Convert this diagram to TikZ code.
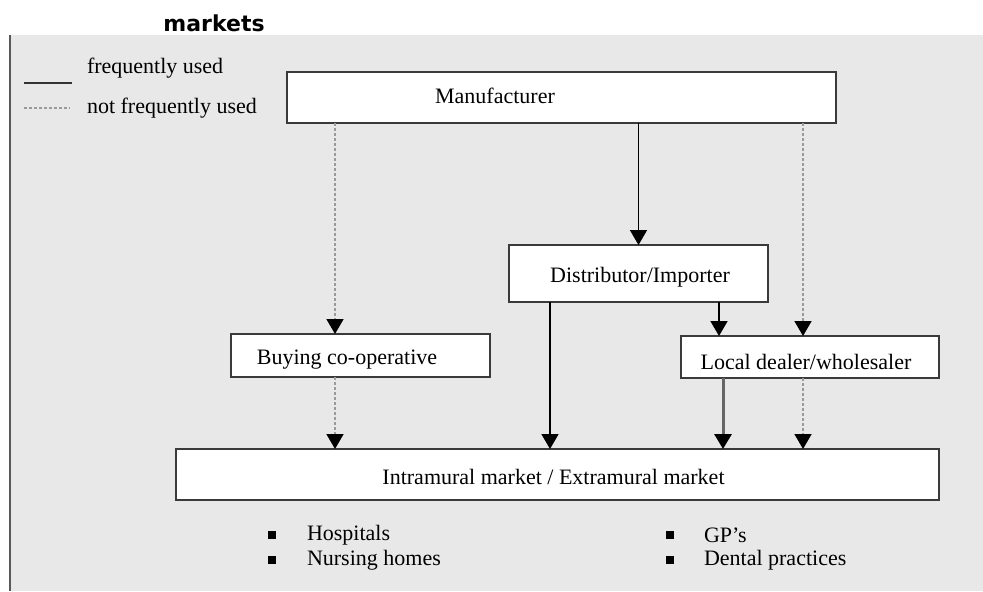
\documentclass[tikz,border=0pt]{standalone}
\usepackage{fontspec}
\setmainfont{Liberation Serif}
\newfontfamily\headfont{DejaVu Sans}
\usetikzlibrary{arrows.meta}
\definecolor{bggray}{HTML}{E8E8E8}
\definecolor{boxline}{HTML}{3A3A3A}
\definecolor{rarecol}{HTML}{9A9A9A}
\begin{document}
\begin{tikzpicture}[x=0.5pt,y=-0.5pt,
  every node/.style={inner sep=0pt, outer sep=0pt},
  txt/.style={font=\fontsize{11}{13}\selectfont},
  box/.style={draw=boxline, line width=1pt, fill=white},
  tip/.style={-{Triangle[width=8.5pt,length=7.5pt,color=black]}},
  freq/.style={tip, draw=black, line width=0.8pt},
  freqgray/.style={tip, draw=black!60, line width=1.5pt},
  rare/.style={tip, draw=rarecol, line width=0.8pt, dash pattern=on 1.5pt off 1pt},
  bullet/.style={fill=black, minimum size=4pt}
]
\useasboundingbox (0,0) rectangle (983,591);
\fill[white] (0,0) rectangle (983,591);
\fill[bggray] (10,35) rectangle (983,591);
\draw[black!65, line width=1.2pt] (10,35) -- (10,591);

\node[font=\headfont\bfseries\fontsize{11}{13}\selectfont] (title) at (214,23) {markets};

% legend
\coordinate (l1a) at (24,83); \coordinate (l1b) at (72,83);
\coordinate (l2a) at (24,108); \coordinate (l2b) at (70,108);
\draw[black!80, line width=1pt] (l1a) -- (l1b);
\draw[rarecol, line width=0.75pt, dash pattern=on 1.5pt off 1pt] (l2a) -- (l2b);
\node[txt, anchor=west] (lt1) at (87,68) {frequently used};
\node[txt, anchor=west] (lt2) at (87,108) {not frequently used};

% boxes
\node[box, minimum width=274.5pt, minimum height=25.5pt] (manu) at (561.5,97.5) {};
\node[box, minimum width=129.5pt, minimum height=28.5pt] (dist) at (638.5,273.5) {};
\node[box, minimum width=129.5pt, minimum height=21.5pt] (buy) at (360.5,355.5) {};
\node[box, minimum width=129pt, minimum height=21pt] (dealer) at (810,357) {};
\node[box, minimum width=381.5pt, minimum height=25.5pt] (intra) at (557.5,474.5) {};

\node[txt] (manut) at (495,96) {Manufacturer};
\node[txt] (distt) at (640,277) {Distributor/Importer};
\node[txt] (buyt) at (347,360) {Buying co-operative};
\node[txt] (dealert) at (806,362) {Local dealer/wholesaler};
\node[txt] (intrat) at (553.5,477) {Intramural market / Extramural market};

% x positions of connectors
\coordinate (xa) at (335,0);
\coordinate (xb) at (550,0);
\coordinate (xc) at (719,0);
\coordinate (xd) at (723,0);
\coordinate (xe) at (803,0);

\draw[rare] (manu.south -| xa) -- (buy.north -| xa);
\draw[freq] (manu.south -| dist.north) -- (dist.north);
\draw[rare] (manu.south -| xe) -- (dealer.north -| xe);
\draw[freq] (dist.south -| xb) -- (intra.north -| xb);
\draw[freq] (dist.south -| xc) -- (dealer.north -| xc);
\draw[freqgray] (dealer.south -| xd) -- (intra.north -| xd);
\draw[rare] (dealer.south -| xe) -- (intra.north -| xe);
\draw[rare] (buy.south -| xa) -- (intra.north -| xa);

% bullet lists
\node[bullet] (b1) at (272,535) {};
\node[bullet] (b2) at (272,560) {};
\node[bullet] (b3) at (670,535) {};
\node[bullet] (b4) at (670,560) {};
\node[txt, anchor=west] (h1) at (307,535) {Hospitals};
\node[txt, anchor=west] (h2) at (307,560) {Nursing homes};
\node[txt, anchor=west] (h3) at (704,535) {GP’s};
\node[txt, anchor=west] (h4) at (704,560) {Dental practices};
\end{tikzpicture}
\end{document}
